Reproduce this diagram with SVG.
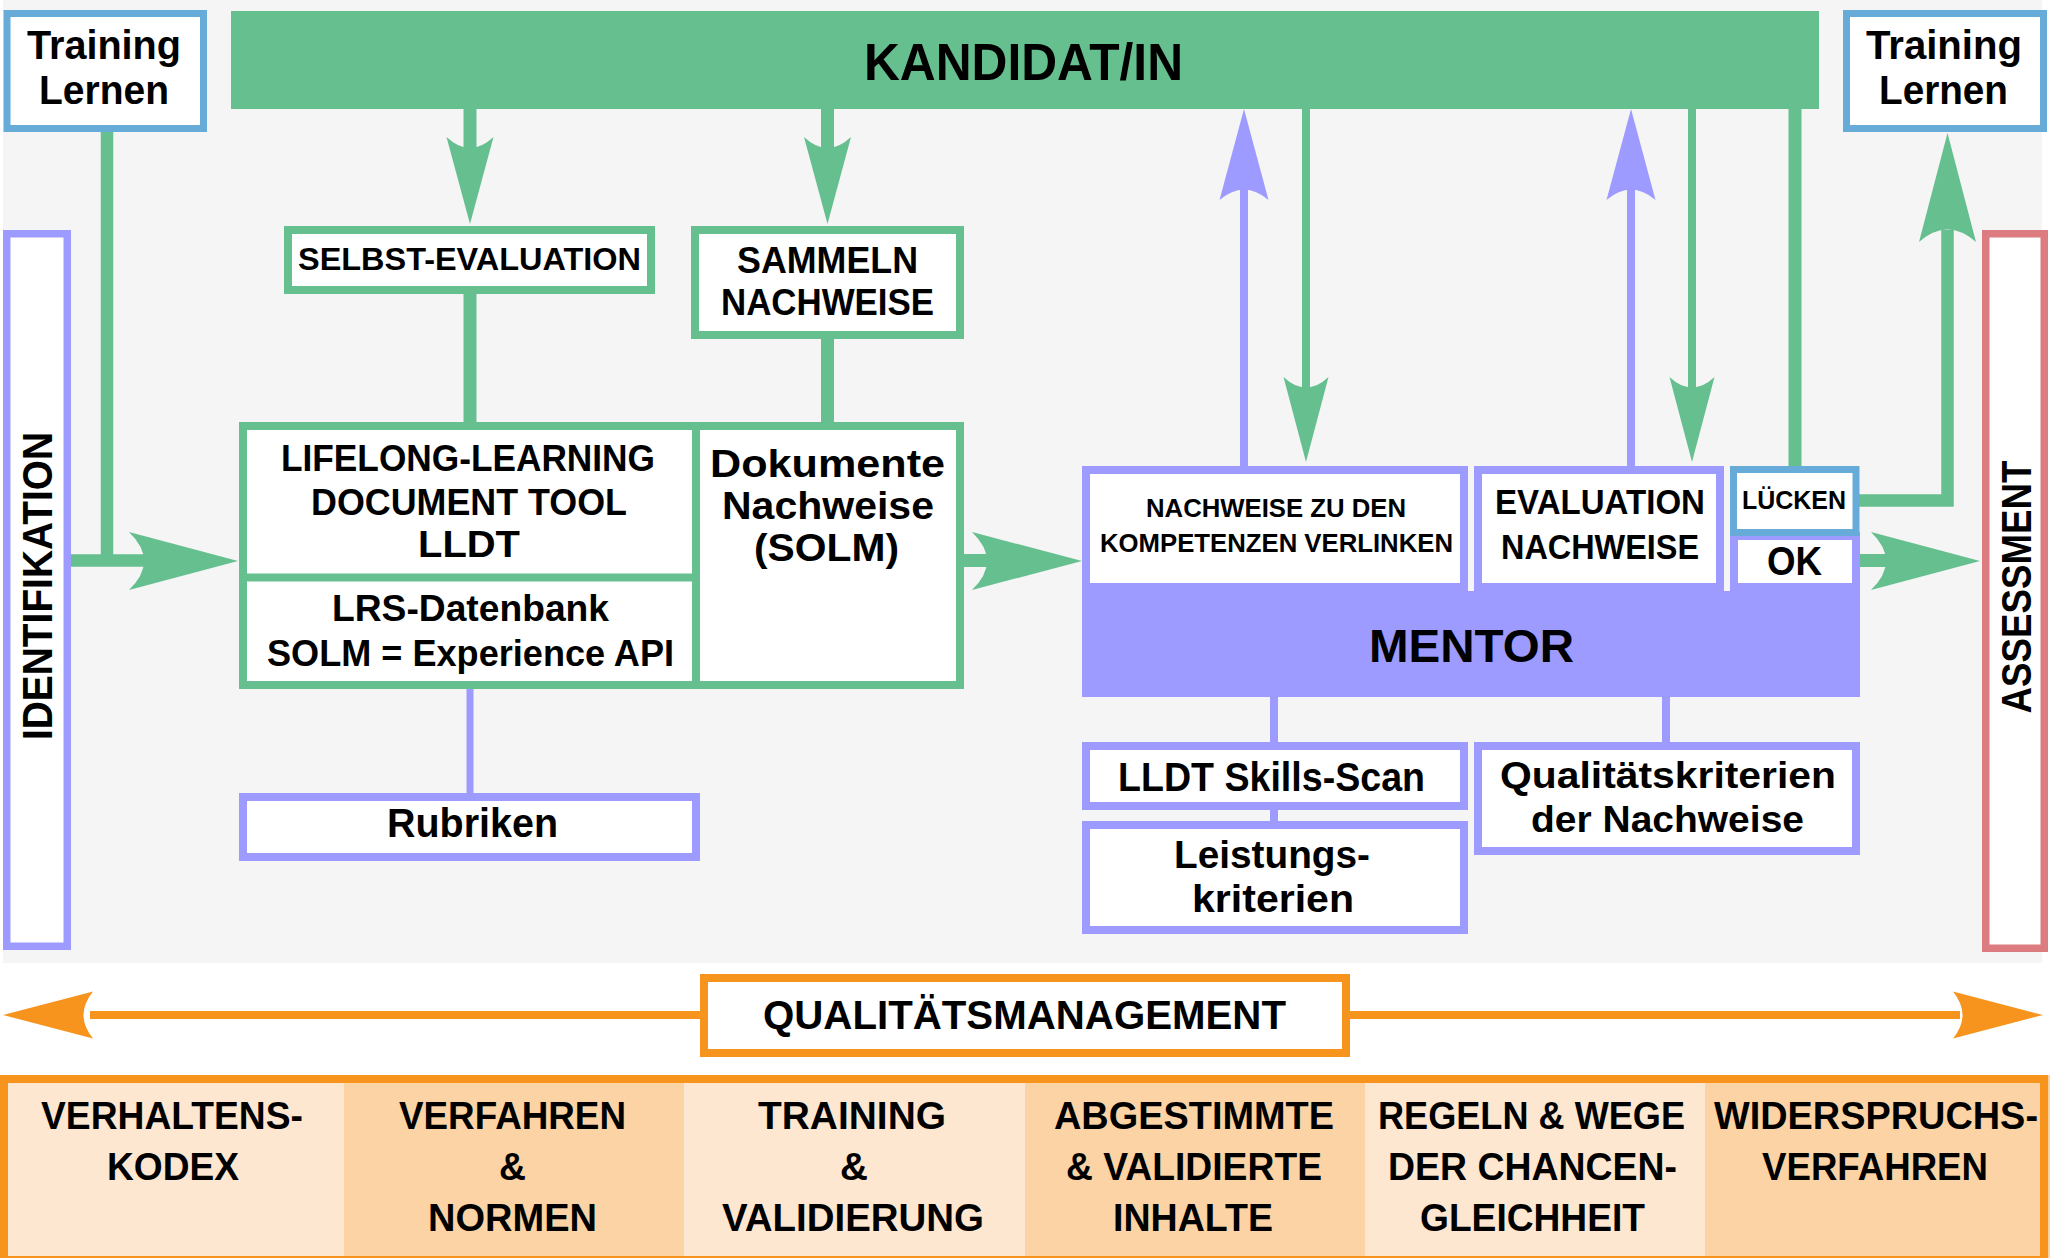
<svg xmlns="http://www.w3.org/2000/svg" width="2050" height="1258" viewBox="0 0 2050 1258">
<style>
.t{font-family:"Liberation Sans","Open Sans",sans-serif;font-weight:700;fill:#000}
.v{font-family:"Liberation Sans","DejaVu Sans",sans-serif;font-weight:700;fill:#000}
.gb{fill:#fff;stroke:#66bf8f;stroke-width:8}
.lb{fill:#fff;stroke:#9d9bff;stroke-width:8}
.bb{fill:#fff;stroke:#67abd8;stroke-width:7}
.rb{fill:#fff;stroke:#dc7b80;stroke-width:7.5}
.gl{stroke:#66bf8f;fill:none}
.ll{stroke:#9d9bff;fill:none}
.gh{fill:#66bf8f}
.lh{fill:#9d9bff}
.oh{fill:#f7941d}
.ol{stroke:#f7941d;stroke-width:8;fill:none}
.c1{fill:#fde7d0}
.c2{fill:#fcd3a4}
</style>
<rect width="2050" height="1258" fill="#fff"/>
<rect x="3" y="0" width="2039" height="963" fill="#f5f5f5"/>

<g id="connectors">
  <path class="gl" stroke-width="13" d="M470,109V160 M827.5,109V160 M470,294V422 M827.5,339V422"/>
  <path class="gh" d="M470,224L446.5,137Q470,159 493.5,137Z"/>
  <path class="gh" d="M827.5,224L804,137Q827.5,159 851,137Z"/>
  <path class="gl" stroke-width="8" d="M1306,109V395 M1692,109V395"/>
  <path class="gh" d="M1306,462L1283.5,377Q1306,398 1328.5,377Z"/>
  <path class="gh" d="M1692,462L1669.5,377Q1692,398 1714.5,377Z"/>
  <path class="ll" stroke-width="8" d="M1244,466V185 M1631,466V185"/>
  <path class="lh" d="M1244,109L1219.5,200Q1244,179 1268.5,200Z"/>
  <path class="lh" d="M1631,109L1606.5,200Q1631,179 1655.5,200Z"/>
  <path class="gl" stroke-width="13" d="M1795,109V466"/>
  <path class="gl" stroke-width="12.5" d="M1859,500.5H1947.5V230"/>
  <path class="gh" d="M1947.5,133L1919,242Q1947.5,217 1976,242Z"/>
  <path class="gl" stroke-width="12.5" d="M107,132V560.5 M70,560.5H150"/>
  <path class="gh" d="M238,561L129,532Q159,561 129,590Z"/>
  <path class="gl" stroke-width="13" d="M964,560.5H990"/>
  <path class="gh" d="M1082,561L972,532Q1002,561 972,590Z"/>
  <path class="gl" stroke-width="13" d="M1859,560.5H1890"/>
  <path class="gh" d="M1980,561L1871,532Q1901,561 1871,590Z"/>
  <path class="ll" stroke-width="7" d="M470,689V793"/>
  <path class="ll" stroke-width="8" d="M1274,697V742 M1274,810V821 M1666,697V742"/>
  <path class="ol" d="M90,1015H700 M1350,1015H1960"/>
  <path class="oh" d="M3,1015L93,991.5Q74,1015 93,1038.5Z"/>
  <path class="oh" d="M2043,1015L1953,991.5Q1972,1015 1953,1038.5Z"/>
</g>

<g id="training-left">
  <rect class="bb" x="7" y="13.5" width="196.5" height="115"/>
  <text class="t" x="27" y="59" font-size="40" textLength="154" lengthAdjust="spacingAndGlyphs">Training</text>
  <text class="t" x="39" y="104" font-size="40" textLength="130" lengthAdjust="spacingAndGlyphs">Lernen</text>
</g>
<g id="training-right">
  <rect class="bb" x="1846.5" y="13.5" width="197" height="115"/>
  <text class="t" x="1866" y="59" font-size="40" textLength="156" lengthAdjust="spacingAndGlyphs">Training</text>
  <text class="t" x="1879" y="104" font-size="40" textLength="129" lengthAdjust="spacingAndGlyphs">Lernen</text>
</g>
<g id="kandidat">
  <rect x="231" y="11" width="1588" height="98" fill="#66bf8f"/>
  <text class="t" x="864" y="80" font-size="52" textLength="319" lengthAdjust="spacingAndGlyphs">KANDIDAT/IN</text>
</g>
<g id="identifikation">
  <rect x="6.75" y="233.75" width="60.5" height="712.5" fill="#fff" stroke="#9d9bff" stroke-width="7.5"/>
  <text class="v" transform="translate(52,586) rotate(-90)" x="-154" y="0" font-size="42" textLength="308" lengthAdjust="spacingAndGlyphs">IDENTIFIKATION</text>
</g>
<g id="assessment">
  <rect class="rb" x="1985.75" y="233.75" width="58.5" height="714.5"/>
  <text class="v" transform="translate(2031,587) rotate(-90)" x="-126.5" y="0" font-size="42" textLength="253" lengthAdjust="spacingAndGlyphs">ASSESSMENT</text>
</g>
<g id="selbst-evaluation">
  <rect class="gb" x="288" y="230" width="363" height="60"/>
  <text class="t" x="298" y="270" font-size="32" textLength="343" lengthAdjust="spacingAndGlyphs">SELBST-EVALUATION</text>
</g>
<g id="sammeln-nachweise">
  <rect class="gb" x="695" y="230" width="265" height="105"/>
  <text class="t" x="737" y="273" font-size="37" textLength="181" lengthAdjust="spacingAndGlyphs">SAMMELN</text>
  <text class="t" x="721" y="315" font-size="37" textLength="213" lengthAdjust="spacingAndGlyphs">NACHWEISE</text>
</g>
<g id="lldt">
  <rect class="gb" x="243" y="426" width="717" height="259"/>
  <path d="M696,426V685 M243,577.5H696" stroke="#66bf8f" stroke-width="8" fill="none"/>
  <text class="t" x="281" y="471" font-size="37" textLength="374" lengthAdjust="spacingAndGlyphs">LIFELONG-LEARNING</text>
  <text class="t" x="311" y="515" font-size="37" textLength="316" lengthAdjust="spacingAndGlyphs">DOCUMENT TOOL</text>
  <text class="t" x="418" y="557" font-size="37" textLength="102" lengthAdjust="spacingAndGlyphs">LLDT</text>
  <text class="t" x="332" y="621" font-size="37" textLength="277" lengthAdjust="spacingAndGlyphs">LRS-Datenbank</text>
  <text class="t" x="267" y="666" font-size="37" textLength="407" lengthAdjust="spacingAndGlyphs">SOLM = Experience API</text>
  <text class="t" x="710" y="477" font-size="38" textLength="235" lengthAdjust="spacingAndGlyphs">Dokumente</text>
  <text class="t" x="722" y="519" font-size="38" textLength="212" lengthAdjust="spacingAndGlyphs">Nachweise</text>
  <text class="t" x="754" y="561" font-size="38" textLength="145" lengthAdjust="spacingAndGlyphs">(SOLM)</text>
</g>
<g id="rubriken">
  <rect class="lb" x="243" y="797" width="453" height="60"/>
  <text class="t" x="387" y="837" font-size="40" textLength="171" lengthAdjust="spacingAndGlyphs">Rubriken</text>
</g>
<g id="mentor">
  <rect x="1082" y="591" width="778" height="106" fill="#9d9bff"/>
  <text class="t" x="1369" y="662" font-size="47" textLength="205" lengthAdjust="spacingAndGlyphs">MENTOR</text>
</g>
<g id="nachweise-verlinken">
  <rect class="lb" x="1086" y="470" width="378" height="117"/>
  <text class="t" x="1146" y="517" font-size="26.5" textLength="260" lengthAdjust="spacingAndGlyphs">NACHWEISE ZU DEN</text>
  <text class="t" x="1100" y="552" font-size="26.5" textLength="353" lengthAdjust="spacingAndGlyphs">KOMPETENZEN VERLINKEN</text>
</g>
<g id="evaluation-nachweise">
  <rect class="lb" x="1478" y="470" width="242" height="117"/>
  <text class="t" x="1495" y="514" font-size="35" textLength="210" lengthAdjust="spacingAndGlyphs">EVALUATION</text>
  <text class="t" x="1501" y="559" font-size="35" textLength="198" lengthAdjust="spacingAndGlyphs">NACHWEISE</text>
</g>
<g id="ok">
  <rect class="lb" x="1734" y="536" width="122" height="51"/>
  <text class="t" x="1767" y="575" font-size="40" textLength="55" lengthAdjust="spacingAndGlyphs">OK</text>
</g>
<g id="luecken">
  <rect class="bb" x="1733.5" y="469.5" width="122.5" height="63"/>
  <text class="t" x="1742" y="509" font-size="25" textLength="104" lengthAdjust="spacingAndGlyphs">LÜCKEN</text>
</g>
<g id="skills-scan">
  <rect class="lb" x="1086" y="746" width="378" height="60"/>
  <text class="t" x="1118" y="791" font-size="40" textLength="307" lengthAdjust="spacingAndGlyphs">LLDT Skills-Scan</text>
</g>
<g id="leistungskriterien">
  <rect class="lb" x="1086" y="825" width="378" height="105"/>
  <text class="t" x="1174" y="868" font-size="39" textLength="196" lengthAdjust="spacingAndGlyphs">Leistungs-</text>
  <text class="t" x="1192" y="912" font-size="39" textLength="162" lengthAdjust="spacingAndGlyphs">kriterien</text>
</g>
<g id="qualitaetskriterien">
  <rect class="lb" x="1478" y="746" width="378" height="105"/>
  <text class="t" x="1500" y="788" font-size="37.5" textLength="336" lengthAdjust="spacingAndGlyphs">Qualitätskriterien</text>
  <text class="t" x="1531" y="832" font-size="37.5" textLength="273" lengthAdjust="spacingAndGlyphs">der Nachweise</text>
</g>
<g id="qualitaetsmanagement">
  <rect x="704" y="978" width="642" height="75" fill="#fff" stroke="#f7941d" stroke-width="8"/>
  <text class="t" x="763" y="1029" font-size="40" textLength="523" lengthAdjust="spacingAndGlyphs">QUALITÄTSMANAGEMENT</text>
</g>
<g id="qm-table">
  <rect class="c1" x="0" y="1075" width="344" height="183"/>
  <rect class="c2" x="344" y="1075" width="340" height="183"/>
  <rect class="c1" x="684" y="1075" width="341" height="183"/>
  <rect class="c2" x="1025" y="1075" width="340" height="183"/>
  <rect class="c1" x="1365" y="1075" width="340" height="183"/>
  <rect class="c2" x="1705" y="1075" width="345" height="183"/>
  <rect x="4" y="1079" width="2040" height="181" fill="none" stroke="#f7941d" stroke-width="8"/>
  <text class="t" x="41" y="1129" font-size="38" textLength="262" lengthAdjust="spacingAndGlyphs">VERHALTENS-</text>
  <text class="t" x="107" y="1180" font-size="38" textLength="132" lengthAdjust="spacingAndGlyphs">KODEX</text>
  <text class="t" x="399" y="1129" font-size="38" textLength="227" lengthAdjust="spacingAndGlyphs">VERFAHREN</text>
  <text class="t" x="499" y="1180" font-size="38" textLength="27" lengthAdjust="spacingAndGlyphs">&amp;</text>
  <text class="t" x="428" y="1231" font-size="38" textLength="169" lengthAdjust="spacingAndGlyphs">NORMEN</text>
  <text class="t" x="758" y="1129" font-size="38" textLength="188" lengthAdjust="spacingAndGlyphs">TRAINING</text>
  <text class="t" x="840" y="1180" font-size="38" textLength="28" lengthAdjust="spacingAndGlyphs">&amp;</text>
  <text class="t" x="722" y="1231" font-size="38" textLength="262" lengthAdjust="spacingAndGlyphs">VALIDIERUNG</text>
  <text class="t" x="1054" y="1129" font-size="38" textLength="280" lengthAdjust="spacingAndGlyphs">ABGESTIMMTE</text>
  <text class="t" x="1066" y="1180" font-size="38" textLength="256" lengthAdjust="spacingAndGlyphs">&amp; VALIDIERTE</text>
  <text class="t" x="1113" y="1231" font-size="38" textLength="160" lengthAdjust="spacingAndGlyphs">INHALTE</text>
  <text class="t" x="1378" y="1129" font-size="38" textLength="307" lengthAdjust="spacingAndGlyphs">REGELN &amp; WEGE</text>
  <text class="t" x="1388" y="1180" font-size="38" textLength="289" lengthAdjust="spacingAndGlyphs">DER CHANCEN-</text>
  <text class="t" x="1420" y="1231" font-size="38" textLength="225" lengthAdjust="spacingAndGlyphs">GLEICHHEIT</text>
  <text class="t" x="1714" y="1129" font-size="38" textLength="324" lengthAdjust="spacingAndGlyphs">WIDERSPRUCHS-</text>
  <text class="t" x="1762" y="1180" font-size="38" textLength="226" lengthAdjust="spacingAndGlyphs">VERFAHREN</text>
</g>
</svg>
